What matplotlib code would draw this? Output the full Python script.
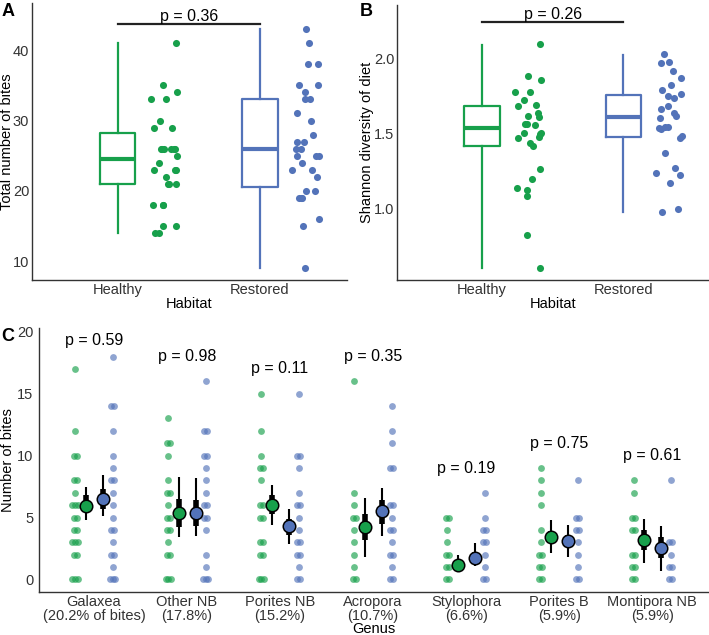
import numpy as np
import matplotlib
matplotlib.use('Agg')
import matplotlib.pyplot as plt

plt.rcParams['font.family'] = ['Liberation Sans', 'DejaVu Sans']
plt.rcParams['axes.edgecolor'] = '#333333'
plt.rcParams['xtick.color'] = '#333333'
plt.rcParams['ytick.color'] = '#333333'

green = '#17a04b'
blue = '#5373b9'

habitats = ['Healthy', 'Restored']

## Panel A: total bites per fish
bites_healthy = [41, 35, 34, 33, 33, 30, 29, 29, 26, 26, 26, 26, 26, 26, 25, 24,
                 23, 23, 23, 22, 21, 21, 21, 18, 18, 18, 15, 15, 14, 14]
bites_restored = [43, 41, 38, 38, 35, 35, 34, 33, 33, 31, 30, 28, 27, 27, 26, 26,
                  25, 25, 25, 24, 23, 23, 22, 20, 20, 19, 19, 19, 16, 15, 9]
# whislo, q1, med, q3, whishi
bites_box = [(14, 21.0, 24.5, 28.25, 41), (9, 20.5, 26, 33, 43)]
p_bites = 'p = 0.36'

## Panel B: Shannon diversity
div_healthy = [2.10, 1.888, 1.859, 1.776, 1.776, 1.724, 1.69, 1.682, 1.635, 1.619,
               1.614, 1.567, 1.567, 1.558, 1.507, 1.507, 1.50, 1.48, 1.471, 1.44,
               1.417, 1.26, 1.193, 1.137, 1.121, 1.081, 0.823, 0.60]
div_restored = [2.034, 1.971, 1.978, 1.922, 1.87, 1.825, 1.794, 1.765, 1.753, 1.738,
                1.686, 1.664, 1.641, 1.619, 1.603, 1.545, 1.545, 1.54, 1.529, 1.484,
                1.471, 1.368, 1.271, 1.233, 1.222, 1.170, 0.996, 0.978]
div_box = [(0.60, 1.42, 1.535, 1.686, 2.096), (0.978, 1.478, 1.612, 1.76, 2.027)]
p_div = 'p = 0.26'

## Panel C: bites per coral genus
genus = ['Galaxea\n(20.2% of bites)', 'Other NB\n(17.8%)', 'Porites NB\n(15.2%)',
         'Acropora\n(10.7%)', 'Stylophora\n(6.6%)', 'Porites B\n(5.9%)',
         'Montipora NB\n(5.9%)']
p_genus = ['p = 0.59', 'p = 0.98', 'p = 0.11', 'p = 0.35', 'p = 0.19', 'p = 0.75', 'p = 0.61']
c_healthy = [
    [17, 12, 10, 10, 8, 8, 7, 6, 6, 6, 5, 5, 4, 4, 3, 3, 3, 2, 2, 0, 0, 0],
    [13, 11, 11, 10, 8, 7, 7, 6, 5, 5, 4, 4, 3, 2, 2, 0, 0, 0],
    [15, 12, 10, 9, 9, 8, 6, 6, 5, 5, 3, 3, 2, 2, 0, 0, 0],
    [16, 7, 6, 5, 5, 4, 3, 2, 1, 0, 0],
    [5, 5, 4, 3, 2, 2, 1, 1, 0, 0],
    [9, 8, 7, 6, 4, 3, 2, 2, 1, 1, 0, 0],
    [8, 7, 5, 5, 4, 4, 2, 2, 1, 1, 0, 0],
]
c_restored = [
    [18, 14, 14, 12, 10, 9, 8, 8, 7, 6, 5, 4, 4, 3, 2, 2, 1, 0, 0, 0],
    [16, 12, 12, 10, 10, 9, 8, 7, 6, 6, 5, 5, 4, 2, 1, 0, 0, 0],
    [15, 10, 10, 9, 7, 6, 6, 5, 4, 3, 3, 2, 2, 1, 0, 0],
    [14, 12, 11, 9, 9, 6, 6, 5, 4, 4, 3, 2, 2, 1, 0, 0],
    [7, 5, 4, 4, 3, 3, 2, 1, 0, 0],
    [8, 5, 5, 4, 4, 3, 2, 1, 0, 0],
    [8, 3, 3, 2, 1, 1, 0, 0],
]
# model estimates: mean, inner interval, outer interval
mean_h = [5.9, 5.35, 6.05, 4.2, 1.2, 3.4, 3.2]
inner_h = [(5.5, 6.8), (4.2, 6.5), (5.3, 6.8), (3.2, 5.3), (0.9, 1.5), (3.0, 3.9), (2.4, 4.0)]
outer_h = [(4.8, 7.5), (3.4, 8.3), (4.4, 7.6), (1.8, 6.6), (0.6, 2.0), (2.1, 4.8), (1.3, 4.9)]
mean_r = [6.5, 5.4, 4.3, 5.5, 1.75, 3.1, 2.5]
inner_r = [(5.7, 7.3), (4.3, 6.4), (3.6, 4.9), (4.5, 6.4), (1.4, 2.2), (2.7, 3.6), (1.7, 3.4)]
outer_r = [(5.1, 8.4), (3.5, 8.2), (2.85, 5.7), (3.5, 7.4), (1.05, 2.95), (1.8, 4.4), (0.7, 4.3)]


def style(ax):
    for s in ['top', 'right']:
        ax.spines[s].set_visible(False)
    ax.spines['left'].set_linewidth(1.0)
    ax.spines['bottom'].set_linewidth(1.0)
    ax.tick_params(labelsize=10.5, length=0, pad=2)


def box_panel(ax, data, boxes, ptext, bar_y):
    rng = np.random.default_rng(4)
    cols = [green, blue]
    for i, (vals, b, c) in enumerate(zip(data, boxes, cols)):
        pos = i + 1
        st = dict(whislo=b[0], q1=b[1], med=b[2], q3=b[3], whishi=b[4], fliers=[])
        ax.bxp([st], positions=[pos], widths=0.25, showcaps=False,
               boxprops=dict(color=c, lw=1.6),
               whiskerprops=dict(color=c, lw=1.6),
               medianprops=dict(color=c, lw=3))
        jit = rng.uniform(-0.1, 0.1, len(vals))
        ax.scatter(pos + 0.32 + jit, vals, s=26, color=c, lw=0, zorder=3)
    ax.plot([1, 2], [bar_y, bar_y], color='#222222', lw=1.6)
    ax.text(1.5, bar_y, ptext, ha='center', va='bottom', fontsize=11.5)
    ax.set_xticks([1, 2])
    ax.set_xticklabels(habitats)
    ax.set_xlabel('Habitat', fontsize=10.5)
    ax.xaxis.set_label_coords(0.5, -0.062)
    style(ax)


fig = plt.figure(figsize=(7.09, 6.35), dpi=100)

axA = fig.add_axes([0.045, 0.559, 0.444, 0.436])
box_panel(axA, [bites_healthy, bites_restored], bites_box, p_bites, 43.7)
axA.set_xlim(0.398, 2.61)
axA.set_ylim(7.3, 46.7)
axA.set_yticks([10, 20, 30, 40])
axA.set_ylabel('Total number of bites', fontsize=10.5)
axA.yaxis.set_label_coords(-0.058, 0.5)

axB = fig.add_axes([0.56, 0.559, 0.439, 0.433])
box_panel(axB, [div_healthy, div_restored], div_box, p_div, 2.247)
axB.set_xlim(0.40, 2.6)
axB.set_ylim(0.52, 2.36)
axB.set_yticks([1.0, 1.5, 2.0])
axB.set_yticklabels(['1.0', '1.5', '2.0'])
axB.set_ylabel('Shannon diversity of diet', fontsize=10.5)
axB.yaxis.set_label_coords(-0.074, 0.5)

axC = fig.add_axes([0.055, 0.068, 0.9436, 0.4153])
x = np.arange(len(genus))
for i in range(len(genus)):
    for vals, c, off in [(c_healthy[i], green, -0.2), (c_restored[i], blue, 0.2)]:
        vals = np.array(vals)
        xs = np.zeros(len(vals))
        for v in np.unique(vals):
            idx = np.where(vals == v)[0]
            xs[idx] = (np.arange(len(idx)) - (len(idx) - 1) / 2) * 0.03
        axC.scatter(x[i] + off + xs, vals, s=24, color=c, alpha=0.65, lw=0, zorder=2)
    for m, inn, out, c, off in [(mean_h[i], inner_h[i], outer_h[i], green, -0.09),
                                (mean_r[i], inner_r[i], outer_r[i], blue, 0.10)]:
        xx = x[i] + off
        axC.plot([xx, xx], out, color='black', lw=1.5, zorder=3, solid_capstyle='butt')
        axC.plot([xx, xx], inn, color='black', lw=4, zorder=3, solid_capstyle='butt')
        axC.plot(xx, m, 'o', ms=9, mfc=c, mec='black', mew=1.1, zorder=4)
    top = max(max(c_healthy[i]), max(c_restored[i]))
    axC.text(x[i], min(top + 2.0, 19.3), p_genus[i], ha='center', va='center', fontsize=11.5)
axC.set_xlim(-0.59, 6.6)
axC.set_ylim(-1.0, 20.3)
axC.set_yticks([0, 5, 10, 15, 20])
axC.set_xticks(x)
axC.set_xticklabels(genus, linespacing=1.05)
axC.set_ylabel('Number of bites', fontsize=10.5)
axC.yaxis.set_label_coords(-0.036, 0.5)
axC.set_xlabel('Genus', fontsize=10.5)
axC.xaxis.set_label_coords(0.5, -0.113)
style(axC)
axC.tick_params(axis='y', pad=4)

fig.text(0.002, 0.995, 'A', fontsize=13, fontweight='bold', va='top')
fig.text(0.508, 0.995, 'B', fontsize=13, fontweight='bold', va='top')
fig.text(0.002, 0.483, 'C', fontsize=13, fontweight='bold', va='top')

fig.savefig('out.png', dpi=100)
